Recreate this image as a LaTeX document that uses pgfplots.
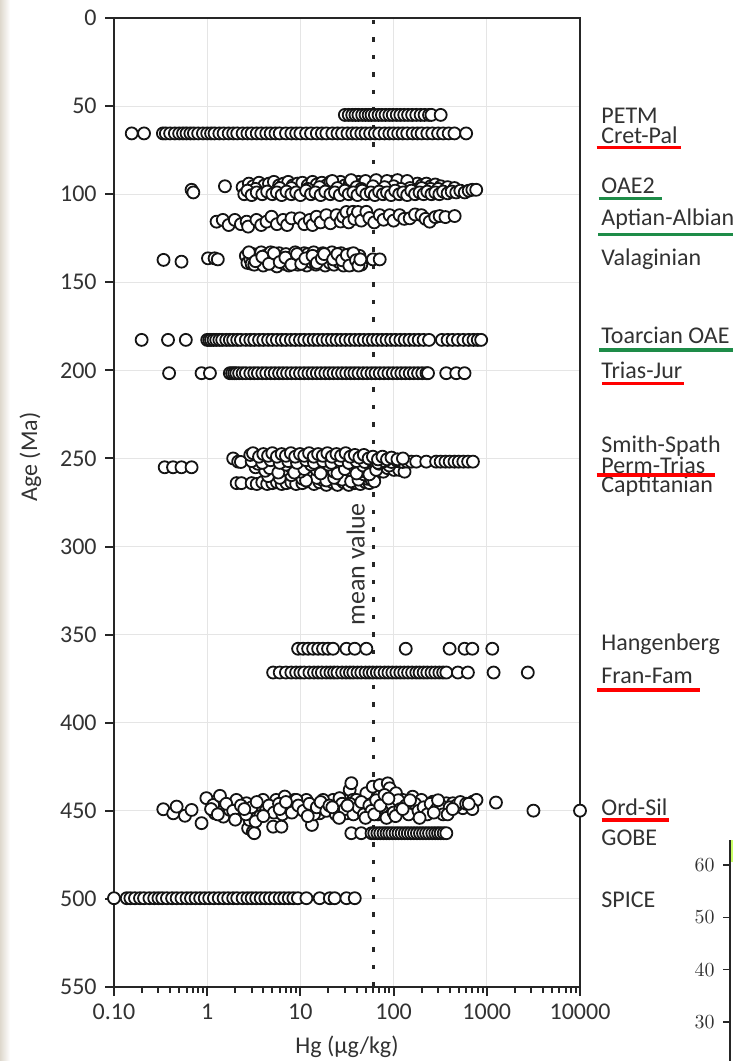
\documentclass[border=0pt]{standalone}
\usepackage{fontspec}
\setmainfont{Carlito}
\usepackage{pgfplots}
\pgfplotsset{compat=1.18}
\definecolor{txt}{RGB}{50,50,50}
\definecolor{ulgreen}{RGB}{30,140,72}
\definecolor{ulred}{RGB}{255,0,0}
\definecolor{bgl}{RGB}{222,216,205}
\begin{document}
\fontsize{12bp}{14bp}\selectfont
\begin{tikzpicture}
\path[use as bounding box] (0,0) rectangle (366.5bp,530.5bp);
\shade[left color=bgl, right color=white] (0,0) rectangle (5bp,530.5bp);
\begin{axis}[
  at={(57bp,37bp)}, anchor=south west,
  scale only axis, width=233bp, height=484.5bp,
  xmode=log, xmin=0.1, xmax=10000,
  ymin=0, ymax=550, y dir=reverse,
  xtick={0.1,1,10,100,1000,10000},
  xticklabels={0.10,1,10,100,1000,10000},
  minor xtick={},
  ytick={0,50,...,550},
  grid=major, major grid style={black!10, line width=0.5bp},
  axis line style={black!85, line width=1.1bp},
  tick align=outside, major tick length=4.5bp,
  tick pos=left,
  tick style={black!85, line width=1bp},
  ticklabel style={font=\fontsize{12bp}{14bp}\selectfont, text=txt},
  /pgf/number format/assume math mode=true,
  xlabel={Hg (μg/kg)}, ylabel={Age (Ma)},
  every axis y label/.style={at={(axis description cs:-0.165,0.547)}, rotate=90, anchor=base, font=\fontsize{12bp}{14bp}\selectfont, text=txt},
  every axis x label/.style={at={(axis description cs:0.5,-0.069)}, anchor=base, font=\fontsize{12bp}{14bp}\selectfont, text=txt},
  clip=false,
  pt/.style={only marks, mark=*, mark size=3bp, mark options={fill=white, draw=black!92, line width=0.9bp}},
]
% mean value line
\addplot[black!85, line width=1.6bp, dash pattern=on 2.2bp off 6.55bp] coordinates {(61,1) (61,550)};
\node[rotate=90, anchor=base, font=\fontsize{13bp}{15bp}\selectfont, text=txt] at (axis cs:49,310) {mean value};
% PETM
\addplot[pt] coordinates {(30,55)(33,55)(36,55)(39,55)(42,55)(46,55)(50,55)(54,55)(58,55)(63,55)(69,55)(75,55)(82,55)(90,55)(98,55)(108,55)(118,55)(130,55)(143,55)(158,55)(175,55)(195,55)(215,55)(240,55)(255,55)(320,55)};
% Cret-Pal
\addplot[pt] coordinates {(0.155,65.5)(0.21,65.5)(0.335,65.5)(0.36,65.5)(0.40,65.5)(0.45,65.5)(0.5,65.5)(0.55,65.5)(0.6,65.5)(0.66,65.5)(0.72,65.5)(0.8,65.5)(0.9,65.5)(1.0,65.5)(1.1,65.5)(1.2,65.5)(1.35,65.5)(1.5,65.5)(1.7,65.5)(1.9,65.5)(2.1,65.5)(2.4,65.5)(2.7,65.5)(3.0,65.5)(3.4,65.5)(3.8,65.5)(4.3,65.5)(4.8,65.5)(5.4,65.5)(6,65.5)(7,65.5)(8,65.5)(9,65.5)(10,65.5)(11.5,65.5)(13,65.5)(15,65.5)(17,65.5)(19,65.5)(22,65.5)(25,65.5)(28,65.5)(32,65.5)(36,65.5)(40,65.5)(45,65.5)(50,65.5)(56,65.5)(63,65.5)(70,65.5)(80,65.5)(90,65.5)(100,65.5)(112,65.5)(125,65.5)(140,65.5)(160,65.5)(180,65.5)(200,65.5)(230,65.5)(260,65.5)(300,65.5)(340,65.5)(390,65.5)(450,65.5)(600,65.5)};
% OAE2
\addplot[pt] coordinates {(0.68,97.5)(0.71,99)(1.55,95.5)
(2.4,96)(2.8,94)(3.1,95.5)(3.6,93.5)(4.1,95)(4.6,94)(5.2,93)(5.9,95)(6.6,94)(7.4,93)(8.3,95)(9.3,94)(10.5,93.5)(12,95)(13.5,93)(15,94.5)(17,93.5)(19,95)(21,93)(24,94)(27,93)(30,95)(34,93.5)(38,94.5)(42,93)(47,94)(52,93.5)(58,95)(64,93)(70,94)(78,93.5)(86,94.5)(95,93)(105,94)(118,95)(130,93.5)(145,94.5)(160,95.5)(180,94)(200,95)(225,94)(250,95.5)(280,94.5)(320,95.5)(380,96)(450,96.5)
(22,92.5)(35,92)(50,92.5)(65,92)(85,92.5)(110,92)(140,92.5)(60,95.5)(100,95.5)(150,96.5)(250,97)(40,96)(16,96)(8,96.5)
(3.3,97)(6,96.5)(12,97)(25,96.5)(45,97)(80,96)(120,97)(200,96.5)(300,97)
(2.5,100)(2.7,98)(3.0,100.5)(3.4,99)(3.9,100)(4.4,98.5)(5.0,100)(5.6,99)(6.3,100.5)(7.1,98.5)(8.0,100)(9.0,99)(10,100.5)(11.5,98)(13,100)(14.5,99)(16.5,100.5)(18.5,98.5)(21,100)(23.5,99)(26.5,100.5)(30,98)(33,100)(37,99)(41,100.5)(46,98)(51,100)(57,99)(63,100.5)(70,98.5)(77,100)(85,99)(94,100.5)(104,98)(115,100)(127,99)(140,100.5)(155,98)(170,100)(190,99)(210,100)(230,98.5)(255,100)(280,99)(310,100)(340,98.5)(380,99.5)(420,98.5)(470,99)(520,98)(580,99)(640,98)(700,97.5)(770,97.5)};
% Aptian-Albian
\addplot[pt] coordinates {(1.26,115.6)(1.47,114.6)(1.7,117.5)(1.98,114.6)(2.3,117)(2.65,115.6)(2.75,118.4)(3.38,114.6)(3.8,117.5)(4.33,115.6)(4.9,112.8)(5.6,117)(6.53,114.6)(7.2,117.5)(8.03,113.7)(9.87,113.7)(11,117)(12.6,114.6)(13.5,117.5)(14.9,112.8)(16.5,116)(19,111.9)(21,116.5)(24.4,111.9)(27,115.5)(28.7,112.8)(31.2,110.1)(33,116)(36.7,110)(38,114)(41.5,110.1)(45,115)(51,110)(55,113.5)(62,116)(71,111.9)(78,114.5)(90.8,111.9)(100,115)(116,111.9)(130,114)(149,113.7)(170,111.5)(199,111.9)(220,114)(244,115.6)(280,113)(312,112.4)(360,113)(452,112.4)};
% Valanginian
\addplot[pt] coordinates {(0.34,137.3)(0.53,138.3)(1.02,136.4)(1.2,136.4)(1.3,137)
(2.6,135)(2.7,139)(2.9,137)(3.0,139.5)(3.1,134)(3.2,140)(3.4,136)(3.6,138)(3.8,133)(4.0,140.5)(4.2,135)(4.5,137.5)(4.8,133)(5.0,139.5)(5.3,135.5)(5.5,137)(5.6,141)(5.9,133.5)(6.3,137)(6.7,139.5)(7.0,134)(7.5,140.5)(7.9,136)(8.4,138.5)(8.8,133)(9,136.5)(9.4,140)(9.9,135.5)(10.5,138)(11,133.5)(11.7,140.5)(12,134)(12.4,136)(13.1,138.5)(13.9,133)(14.7,140)(15.5,135.5)(16,136)(16.5,138)(17.4,133.5)(18.5,140.5)(19.5,136.5)(20,134.5)(20.7,139)(21.8,133)(23,140)(24.4,135.5)(25.8,138.5)(26,136)(27.3,133.5)(29,140.5)(30.6,136)(32.4,139)(34.3,134)(35,138)(36.3,140)(38.4,136.5)(40.7,139)(43,135)(45,140)
(2.8,133)(3.3,138)(3.9,135.5)(4.6,139.5)(5.2,133.5)(6.0,138.5)(6.9,136)(8,140)(9.2,134)(10.2,139.5)(11.3,136.5)(13.5,135)(15,139)(17,136.5)(18,134)(22.5,137)(25,134)(28,137.5)(31.5,134.5)(33.5,140.5)(37,133.5)(39.5,137.5)(42,140.5)(44,137)
(60,137)(71,137)};
% Toarcian OAE
\addplot[pt] coordinates {(0.198,182.7)(0.38,182.7)(0.59,182.7)(1.0,182.7)(1.05,182.7)(1.1,182.7)(1.17,182.7)(1.25,182.7)(1.35,182.7)(1.45,182.7)(1.6,182.7)(1.75,182.7)(1.9,182.7)(2.1,182.7)(2.3,182.7)(2.6,182.7)(2.9,182.7)(3.2,182.7)(3.6,182.7)(4.0,182.7)(4.5,182.7)(5.0,182.7)(5.6,182.7)(6.3,182.7)(7.0,182.7)(7.9,182.7)(8.8,182.7)(9.9,182.7)(11,182.7)(12.4,182.7)(13.9,182.7)(15.5,182.7)(17.4,182.7)(19.5,182.7)(21.8,182.7)(24.4,182.7)(27.3,182.7)(30.6,182.7)(34.3,182.7)(38.4,182.7)(43,182.7)(48,182.7)(54,182.7)(60,182.7)(67,182.7)(75,182.7)(84,182.7)(94,182.7)(105,182.7)(118,182.7)(132,182.7)(148,182.7)(166,182.7)(186,182.7)(210,182.7)(240,182.7)(330,182.7)(380,182.7)(430,182.7)(490,182.7)(560,182.7)(640,182.7)(720,182.7)(800,182.7)(870,182.7)};
% Trias-Jur
\addplot[pt] coordinates {(0.39,201.6)(0.87,201.6)(1.07,201.6)(1.75,201.6)(1.85,201.6)(1.95,201.6)(2.05,201.6)(2.2,201.6)(2.4,201.6)(2.6,201.6)(2.9,201.6)(3.2,201.6)(3.5,201.6)(3.9,201.6)(4.3,201.6)(4.8,201.6)(5.3,201.6)(5.9,201.6)(6.5,201.6)(7.2,201.6)(8.0,201.6)(8.9,201.6)(9.9,201.6)(11,201.6)(12.2,201.6)(13.5,201.6)(15,201.6)(16.6,201.6)(18.5,201.6)(20.5,201.6)(22.7,201.6)(25.2,201.6)(28,201.6)(31,201.6)(34.5,201.6)(38,201.6)(42,201.6)(47,201.6)(52,201.6)(58,201.6)(64,201.6)(71,201.6)(79,201.6)(88,201.6)(98,201.6)(109,201.6)(121,201.6)(134,201.6)(149,201.6)(165,201.6)(183,201.6)(203,201.6)(225,201.6)(234,201.6)(367,201.6)(470,201.6)(577,201.6)};
% Smith-Spath / Perm-Trias / Capitanian
\addplot[pt] coordinates {(0.35,255)(0.43,255)(0.53,255)(0.68,255)(1.9,250)(2.15,251.8)
(2.07,264)(2.33,264)(3.0,264)(3.4,264.5)(3.9,263.5)(4.4,264.5)(5.0,264)(5.6,263.5)(6.3,264.5)(7.1,264)(8.0,263.5)(9.0,264.5)(10.5,264)(12,263)(14,264.5)(16,263.5)(19,265)(22,263.5)(25,265)(29,263.5)(33,265)(38,264)(44,264.5)(50,263.5)(55,264)
(4.5,260)(6,261)(8,259.5)(10.5,261.5)(13.5,260)(17,262)(21,259.5)(26,261.5)(32,260)(38,262)(45,260.5)(52,261.5)(62,260)
(28,262)(35,263)(42,262)(48,259)(58,262)(62,263)(15,261)(19,262.5)(11.5,262.5)(23,261)
(3.3,255)(4.2,257)(5.2,254.5)(6.5,256.5)(8.0,255)(10,257.5)(12.5,254.5)(15,256.5)(18.5,255)(23,257.5)(28,254.5)(34,256.5)(42,255)(50,257.5)(60,255.5)(72,257)(77.6,257.5)(86,255.5)(101,256.5)(115,256.5)(131,257.5)
(3.5,253)(4.7,255.5)(5.8,258)(7,253.5)(8.6,258)(11,256)(13,253.5)(16.5,258.5)(20,253.5)(25,258.5)(30,256)(36,253.5)(40,258.5)(47,254)(55,259)(65,256.5)(70,253)(90,254)
(2.3,252)(3.0,251.5)(3.9,252.5)(4.8,251)(6.0,252.5)(7.4,251.5)(9.2,252.5)(11.5,251)(14,252.5)(17.5,251.5)(21.5,252.5)(26.5,251)(33,252.5)(40,251.5)(49,252)(58,251)(68,252.5)(80,251.5)(95,252)(110,251.5)(125,252)(140,251.8)(155,251.8)(175,251.8)(224,251.8)(286,251.8)(320,251.8)(360,251.8)(400,251.8)(450,251.8)(500,251.8)(560,251.8)(630,251.8)(710,251.8)
(2.9,248)(3.1,247)(3.6,249)(4.0,247.5)(4.5,248.5)(5.0,247)(5.6,249)(6.3,247.5)(7.0,248.5)(7.9,247)(8.8,249)(9.9,247.5)(11,248.5)(12.4,247)(13.9,249)(15.5,247.5)(17.4,248.5)(19.5,247)(21.8,249)(24.4,247.5)(27.3,248.5)(30.6,247)(34.3,249)(38.4,248)(43,249.5)(48,248)(54,250)(60,249)(68,250.5)(76,249)(85,250.5)(95,249.5)(110,250.5)(126,250)};
% Hangenberg
\addplot[pt] coordinates {(9.45,358)(10.7,358)(12.1,358)(13.7,358)(15.5,358)(17.5,358)(19.8,358)(22.4,358)(31.2,358)(38.3,358)(51,358)(135,358)(399,358)(578,358)(700,358)(1146,358)};
% Fran-Fam
\addplot[pt] coordinates {(5.1,371.5)(6.0,371.5)(7.0,371.5)(8.0,371.5)(9.0,371.5)(10,371.5)(11,371.5)(12.5,371.5)(14,371.5)(15.5,371.5)(17,371.5)(19,371.5)(21,371.5)(23,371.5)(25,371.5)(28,371.5)(31,371.5)(34,371.5)(37,371.5)(41,371.5)(45,371.5)(50,371.5)(55,371.5)(60,371.5)(66,371.5)(72,371.5)(80,371.5)(88,371.5)(97,371.5)(107,371.5)(118,371.5)(130,371.5)(143,371.5)(158,371.5)(175,371.5)(190,371.5)(210,371.5)(230,371.5)(255,371.5)(280,371.5)(310,371.5)(340,371.5)(368,371.5)(490,371.5)(627,371.5)(1183,371.5)(2755,371.5)};
% Ord-Sil
\addplot[pt] coordinates {(0.338,449.1)(0.432,451.4)(0.47,447.6)(0.577,452.8)(0.68,449.5)(0.87,457)(0.98,442.8)(1.16,446.7)(1.21,451.4)(1.37,441.5)(1.49,453.3)(1.75,449.5)(2.06,443.8)(2.24,451.4)(2.64,445.7)(2.75,459.9)(2.85,455.2)(3.09,461.8)(3.2,462.7)(3.5,451.4)(3.97,443.8)(4.3,449.5)(5.1,459)(5.5,443.8)(6.26,459)(6.8,441.9)(7.7,449.5)(8.7,443.8)(10.3,445.7)(11.6,443.8)(13.3,458)(16.1,451.4)(18.2,444.8)(22.4,443.8)(26.3,442.8)(31.2,451.4)(33.8,438.1)(35.2,434.3)(36.6,443.8)(38.3,451.4)(9.06,443.8)(17.5,443.8)(39.8,443.8)(51,440)(59.8,436.3)(71,435.4)(86.6,434.4)(90.8,437.2)(106,440)(125,443.8)(160,442)(199,443.8)(265,444.8)(368,445.7)(433,445.7)(553,448.5)(710,444.8)(775,443.8)(1254,445.3)(3164,449.9)(10000,449.9)
(1.1,449)(1.3,452)(1.6,446)(1.9,450)(2.3,447)(2.6,452)(3.0,448)(3.4,445)(3.7,453)(4.6,447)(5.2,451)(5.9,446)(6.4,452)(7.2,448)(8.1,451)(9.5,447)(10.8,450)(12.5,446)(14,452)(15,448)(16.5,445)(19,450)(20.5,447)(24,452)(28,446)(30,449)(34,446)(37,452)(42,448)(45,445)(48,452)(55,447)(58,450)(65,444)(68,452)(75,448)(80,441)(84,454)(95,446)(100,451)(112,444)(118,449)(135,447)(145,452)(170,446)(185,450)(210,448)(230,452)(250,446)(290,449)(320,447)(340,452)(400,448)(470,447)(520,445)(600,446)
(50,454)(62,452)(72,447)(88,443)(105,453)(125,449)(150,444)(190,454)(270,451)(300,444)(380,452)(430,449)(700,449)(640,446)(2.0,455)(2.5,449)(3.3,456)(4,453)(6,449)(7,445)(12,453)(22,448)(26,454)(32,447)};
% GOBE
\addplot[pt] coordinates {(35.2,462.7)(45,462.7)(58,462.7)(62,462.7)(67,462.7)(72,462.7)(78,462.7)(84,462.7)(90,462.7)(97,462.7)(105,462.7)(113,462.7)(122,462.7)(132,462.7)(142,462.7)(153,462.7)(165,462.7)(178,462.7)(192,462.7)(207,462.7)(223,462.7)(240,462.7)(260,462.7)(280,462.7)(300,462.7)(320,462.7)(345,462.7)(368,462.7)};
% SPICE
\addplot[pt] coordinates {(0.1,499.6)(0.137,499.6)(0.15,499.6)(0.168,499.6)(0.19,499.6)(0.21,499.6)(0.24,499.6)(0.27,499.6)(0.30,499.6)(0.33,499.6)(0.37,499.6)(0.42,499.6)(0.47,499.6)(0.53,499.6)(0.6,499.6)(0.67,499.6)(0.75,499.6)(0.84,499.6)(0.94,499.6)(1.05,499.6)(1.18,499.6)(1.33,499.6)(1.5,499.6)(1.68,499.6)(1.9,499.6)(2.1,499.6)(2.4,499.6)(2.7,499.6)(3.0,499.6)(3.35,499.6)(3.75,499.6)(4.2,499.6)(4.7,499.6)(5.3,499.6)(6.0,499.6)(6.7,499.6)(7.5,499.6)(8.4,499.6)(9.4,499.6)(11.6,499.6)(16.1,499.6)(20.7,499.6)(23.3,499.6)(31.2,499.6)(38.3,499.6)};
\end{axis}
% right-hand labels
\begin{scope}[every node/.style={anchor=base west, inner sep=0pt, text=txt, font=\fontsize{12bp}{14bp}\selectfont}]
\node at (300.5bp,468.65bp) {PETM};
\node at (300.5bp,458.65bp) {Cret-Pal};
\node at (300.5bp,433.65bp) {OAE2};
\node at (300.5bp,417.65bp) {Aptian-Albian};
\node at (300.5bp,397.65bp) {Valaginian};
\node at (300.5bp,358.65bp) {Toarcian OAE};
\node at (300.5bp,341.15bp) {Trias-Jur};
\node at (300.5bp,304.15bp) {Smith-Spath};
\node at (300.5bp,293.65bp) {Perm-Trias};
\node at (300.5bp,284.15bp) {Captitanian};
\node at (300.5bp,205.15bp) {Hangenberg};
\node at (300.5bp,188.65bp) {Fran-Fam};
\node at (300.5bp,122.65bp) {Ord-Sil};
\node at (300.5bp,107.65bp) {GOBE};
\node at (300.5bp,76.65bp) {SPICE};
\end{scope}
\draw[ulred, line width=1.6bp] (298.35bp,456.65bp) -- (340.35bp,456.65bp);
\draw[ulgreen, line width=1.6bp] (299.35bp,431.35bp) -- (331bp,431.35bp);
\draw[ulgreen, line width=1.6bp] (299bp,413.35bp) -- (366.5bp,413.35bp);
\draw[ulgreen, line width=1.6bp] (299.5bp,355.5bp) -- (366.5bp,355.5bp);
\draw[ulred, line width=1.6bp] (301bp,338.65bp) -- (342bp,338.65bp);
\draw[ulred, line width=1.6bp] (298.35bp,293bp) -- (357.5bp,293bp);
\draw[ulred, line width=1.6bp] (298.5bp,185.5bp) -- (350bp,185.5bp);
\draw[ulred, line width=1.6bp] (300.85bp,120.5bp) -- (334.5bp,120.5bp);
% fragment of a neighbouring chart
\fill[green!35!yellow!60!white] (365.6bp,99.5bp) rectangle (366.5bp,110.5bp);
\begin{axis}[
  at={(365bp,0bp)}, anchor=south west,
  scale only axis, width=40bp, height=110.5bp,
  xmin=0, xmax=1, ymin=22.55, ymax=64.78,
  axis x line=none, axis y line*=left,
  ytick={30,40,50,60},
  tick align=outside, major tick length=3.5bp,
  axis line style={black!85, line width=1bp},
  tick style={black!85, line width=0.8bp},
  ticklabel style={font=\fontsize{9.5bp}{11bp}\selectfont, text=txt},
]
\end{axis}
\end{tikzpicture}
\end{document}
